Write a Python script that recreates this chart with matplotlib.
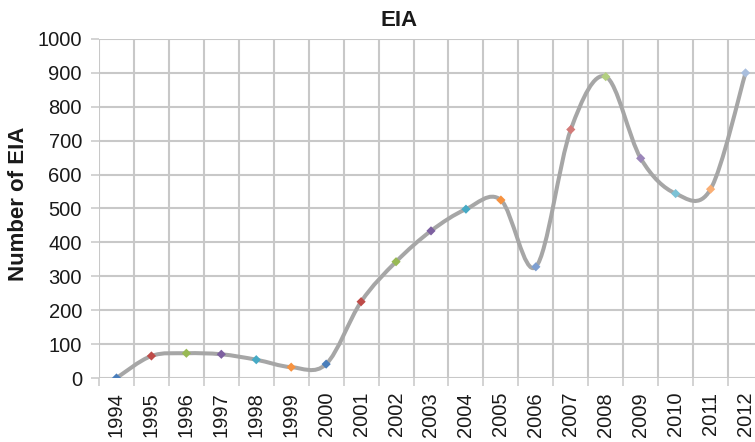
import matplotlib
matplotlib.use("Agg")
import matplotlib.pyplot as plt
from matplotlib.path import Path
from matplotlib.patches import PathPatch
import numpy as np

plt.rcParams['font.family'] = ['Liberation Sans', 'DejaVu Sans']

years = ['1994', '1995', '1996', '1997', '1998', '1999', '2000', '2001', '2002', '2003',
         '2004', '2005', '2006', '2007', '2008', '2009', '2010', '2011', '2012']
eia = [0, 65, 73, 70, 54, 32, 41, 225, 343, 434,
       498, 525, 328, 733, 889, 648, 544, 557, 900]
marker_colors = ['#4A7EBB', '#BE4B48', '#98B954', '#7D60A0', '#46AAC5', '#F69240',
                 '#4A7EBB', '#BE4B48', '#98B954', '#7D60A0', '#46AAC5', '#F69240',
                 '#7E9FD1', '#D37B79', '#B3CF80', '#9B86B9', '#7CC2D6', '#F9AE74',
                 '#A9BEDD']

W, H = 755, 442
fig = plt.figure(figsize=(W / 100, H / 100), dpi=100)
ax = fig.add_axes([99 / W, (H - 378) / H, (763 - 99) / W, (378 - 39) / H])

x = np.arange(len(years))
y = np.array(eia, dtype=float)

# excel-style smoothed line: cubic bezier with catmull-rom control points
verts = [(x[0], y[0])]
codes = [Path.MOVETO]
n = len(x)
for i in range(n - 1):
    p0 = np.array([x[max(i - 1, 0)], y[max(i - 1, 0)]])
    p1 = np.array([x[i], y[i]])
    p2 = np.array([x[i + 1], y[i + 1]])
    p3 = np.array([x[min(i + 2, n - 1)], y[min(i + 2, n - 1)]])
    c1 = p1 + (p2 - p0) / 6
    c2 = p2 - (p3 - p1) / 6
    verts += [tuple(c1), tuple(c2), tuple(p2)]
    codes += [Path.CURVE4] * 3
ax.add_patch(PathPatch(Path(verts, codes), facecolor='none', edgecolor='#A6A6A6',
                       lw=2.9, capstyle='round', joinstyle='round', zorder=3))

ax.scatter(x, y, marker='D', s=22, c=marker_colors, edgecolors='none', zorder=4)

ax.set_xlim(-0.5, n - 0.5)
ax.set_ylim(0, 1000)
ax.set_yticks(np.arange(0, 1001, 100))
ax.set_xticks(x)
ax.set_xticklabels(years, rotation=90, va='top')
ax.set_xticks(np.arange(-0.5, n, 1), minor=True)

grid_c = '#C8C8C8'
ax.grid(False)
for v in np.arange(100, 1001, 100):
    ax.axhline(v, color=grid_c, lw=1.5, zorder=1)
for v in np.arange(-0.5, n, 1):
    ax.axvline(v, color=grid_c, lw=1.5, zorder=1)
ax.axhline(0, color=grid_c, lw=1.5, zorder=1)

for s in ax.spines.values():
    s.set_visible(False)

ax.tick_params(axis='x', which='major', length=0, pad=10, labelsize=14.5, colors='#1A1A1A')
ax.tick_params(axis='x', which='minor', length=5.5, width=1.1, color=grid_c)
ax.tick_params(axis='y', length=5.8, width=1.1, color=grid_c, pad=6.5, labelsize=14.5,
               labelcolor='#1A1A1A')

fig.text(399 / W, 1 - 20 / H, 'EIA', ha='center', va='center', fontsize=16,
         fontweight='bold', color='#1A1A1A')
fig.text(19 / W, 1 - 204 / H, 'Number of EIA', ha='center', va='center', rotation=90,
         fontsize=16, fontweight='bold', color='#1A1A1A')

fig.savefig('out.png', dpi=100)
